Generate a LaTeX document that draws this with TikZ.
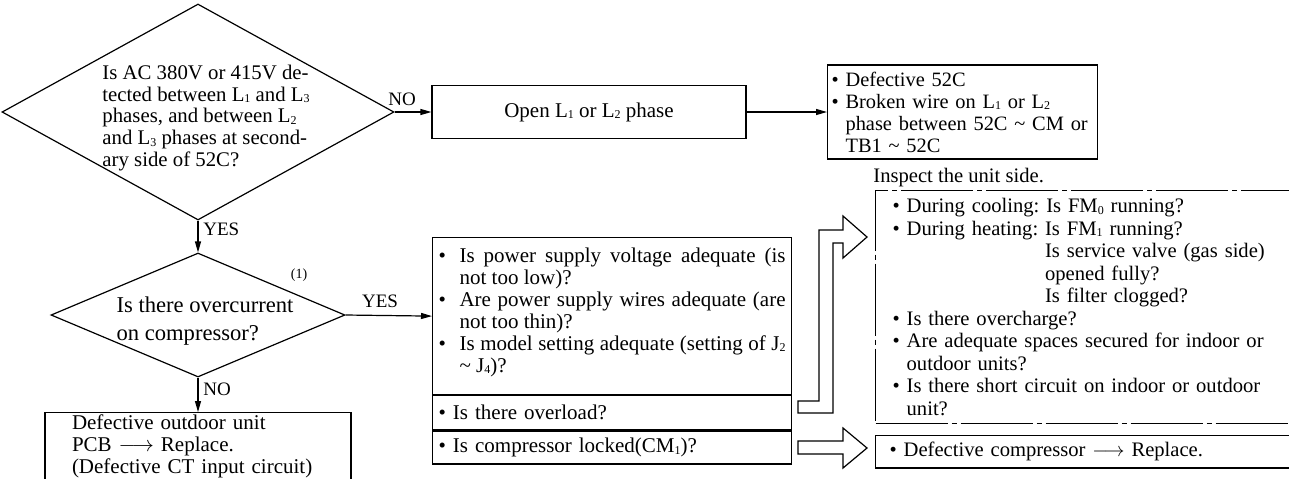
\documentclass[tikz,border=0pt]{standalone}
\usepackage{fontspec}
\setmainfont{Liberation Serif}
\usetikzlibrary{shapes.geometric,arrows.meta,positioning}
\frenchspacing

\newcommand{\ix}[1]{\raisebox{-0.15ex}{\fontsize{6pt}{6pt}\selectfont #1}}
\newcommand{\itm}{\par\hangindent=1em\hangafter=1\noindent\makebox[1em][l]{\textbullet}}
\newcommand{\hang}{\phantom{\textbullet\ }}

\tikzstyle{decision} = [
diamond,
draw=black,
line width=0.6pt,
inner sep=0pt
]
\tikzstyle{box} = [
rectangle,
draw=black,
line width=0.6pt,
font=\fontsize{10.5}{11}\selectfont
]
\tikzstyle{checkbox} = [
box,
text width=173.5pt,
inner xsep=3pt
]
\tikzstyle{arrow} = [
line width=0.6pt,
-{Triangle[length=5.5pt,width=3pt]}
]
\tikzstyle{tag} = [
inner sep=0.5pt,
font=\fontsize{9.5}{10}\selectfont
]
\tikzstyle{hollow} = [
draw=black,
line width=0.6pt,
fill=white
]

\begin{document}
\begin{tikzpicture}[
x=0.5pt,
y=-0.5pt
]
\useasboundingbox (0,0) rectangle (1289,478);
\clip (0,0) rectangle (1289,478);

% first check
\node (phase) [decision, minimum width=196pt, minimum height=108pt] at (198,112) {};
\node (phasetext) [align=left, inner sep=0pt, font=\fontsize{10.4}{10.85}\selectfont] at (206,118)
{Is AC 380V or 415V de-\\tected between L\ix1 and L\ix3\\phases, and between L\ix2\\and L\ix3 phases at second-\\ary side of 52C?};

\node (open) [box, minimum width=157pt, minimum height=26.5pt] at (589,112)
{Open L\ix1 or L\ix2 phase};

\node (fix52c) [box, anchor=west, text width=131pt, inner xsep=2pt, minimum height=47pt, align=left,
font=\fontsize{10.2}{11}\selectfont] at (827,112)
{\textbullet\ Defective 52C\\
\textbullet\ Broken wire on L\ix1 or L\ix2\\
\hang phase between 52C \textasciitilde\ CM or\\
\hang TB1 \textasciitilde\ 52C};

% second check
\node (overcur) [decision, minimum width=147pt, minimum height=62pt] at (198,315) {};
\node (overcurtext) [align=left, inner sep=0pt, font=\fontsize{11.3}{14}\selectfont] at (205,321)
{Is there overcurrent\\on compressor?};
\node (mark1) [inner sep=0pt, font=\fontsize{7}{7}\selectfont] at (299,275) {(1)};

\node (pcb) [box, anchor=north, text width=126pt, inner xsep=13.5pt, inner ysep=1pt, align=left] at (198,412)
{Defective outdoor unit\\PCB $\longrightarrow$ Replace.\\(Defective CT input circuit)\\[-3pt]\strut};

% checks on the power side
\node (chk1) [checkbox, anchor=north west, minimum height=78.5pt, inner ysep=1pt, align=justify] at (432,237)
{\itm Is power supply voltage adequate (is\linebreak not too low)?
\itm Are power supply wires adequate (are\linebreak not too thin)?
\itm Is model setting adequate (setting of J\ix2\linebreak \textasciitilde\ J\ix4)?\par
\hrule height 0pt depth 7.5pt width 0pt};
\node (chk2) [checkbox, minimum height=17pt, align=left, below=0pt of chk1.south west, anchor=north west]
{\textbullet\ Is there overload?};
\node (chk3) [checkbox, minimum height=16.5pt, align=left, below=0pt of chk2.south west, anchor=north west]
{\textbullet\ Is compressor locked(CM\ix1)?};

% unit side
\node (units) [rectangle, draw=black, line width=0.6pt, dash pattern=on 36pt off 2pt on 2.5pt off 2pt,
anchor=north west, text width=204pt, inner xsep=8.5pt, minimum height=116.5pt, align=left,
font=\fontsize{10.3}{11.25}\selectfont] at (875,190)
{\textbullet\ During cooling: Is FM\ix0 running?\\
\textbullet\ During heating: Is FM\ix1 running?\\
\phantom{\textbullet\ During heating: }Is service valve (gas side)\\
\phantom{\textbullet\ During heating: }opened fully?\\
\phantom{\textbullet\ During heating: }Is filter clogged?\\
\textbullet\ Is there overcharge?\\
\textbullet\ Are adequate spaces secured for indoor or\\
\hang outdoor units?\\
\textbullet\ Is there short circuit on indoor or outdoor\\
\hang unit?};
\node (inspect) [anchor=south west, inner xsep=0pt, inner ysep=1.5pt, font=\fontsize{10.3}{11}\selectfont] at ([xshift=-1pt]units.north west)
{Inspect the unit side.};

\node (repl) [box, below=5.5pt of units.south west, anchor=north west, text width=204pt, inner xsep=7pt, minimum height=14pt, align=left,
font=\fontsize{10.3}{11}\selectfont]
{\textbullet\ Defective compressor $\longrightarrow$ Replace.};

% connectors
\draw [arrow] (phase.east) -- (open.west);
\draw [arrow] (open.east) -- (fix52c.west);
\draw [arrow] (phase.south) -- (overcur.north);
\draw [arrow] (overcur.east) -- (chk1.west);
\draw [arrow] (overcur.south) -- (pcb.north);

\node (no1) [tag] at (402,99) {NO};
\node (yes1) [tag, anchor=west] at (202,229) {YES};
\node (yes2) [tag] at (380,301) {YES};
\node (no2) [tag, anchor=west] at (202,389) {NO};

% hollow arrows
\draw [hollow] (798,401) -- (798,413) -- (833,413) -- (833,243) -- (843,243) -- (843,258)
-- (867,237) -- (843,216) -- (843,230) -- (819,230) -- (819,401) -- cycle;
\draw [hollow] (798,441) -- (843,441) -- (843,428) -- (867,448) -- (843,468) -- (843,454)
-- (798,454) -- cycle;

\end{tikzpicture}
\end{document}
